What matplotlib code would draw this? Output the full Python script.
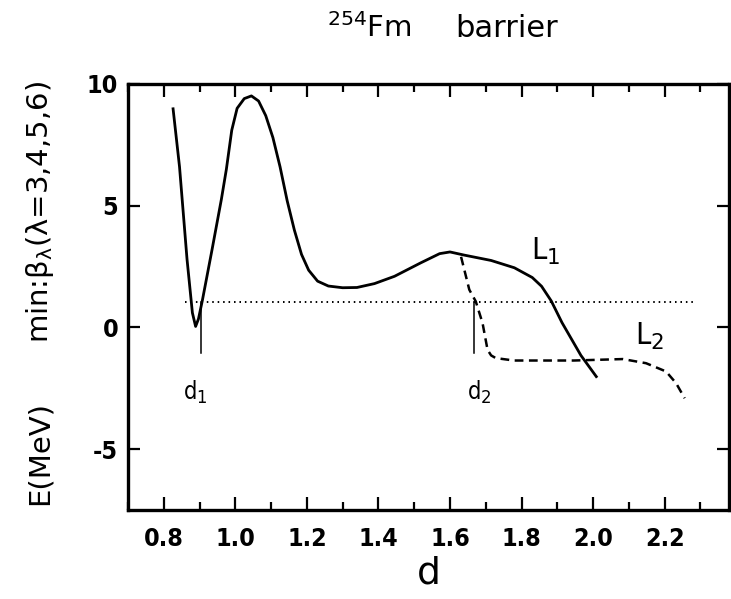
import matplotlib
matplotlib.use('Agg')
import matplotlib.pyplot as plt
from matplotlib.ticker import MultipleLocator
from matplotlib import font_manager

plt.rcParams['mathtext.fontset'] = 'custom'
plt.rcParams['mathtext.rm'] = 'DejaVu Sans'
plt.rcParams['mathtext.it'] = 'DejaVu Sans'

# narrow face for the numbers, if one is around
names = set(f.name for f in font_manager.fontManager.ttflist)
narrow = 'Liberation Sans Narrow' if 'Liberation Sans Narrow' in names else 'DejaVu Sans'
num_font = dict(family=narrow, stretch='condensed', weight='semibold')
lab_font = dict(family=narrow, stretch='condensed')

# barrier along the L1 path
d_L1 = [0.826, 0.844, 0.865, 0.880, 0.889, 0.897, 0.908, 0.935, 0.961, 0.975,
        0.990, 1.005, 1.025, 1.045, 1.065, 1.085, 1.105, 1.125, 1.145, 1.165,
        1.185, 1.205, 1.230, 1.260, 1.300, 1.340, 1.389, 1.445, 1.518, 1.571,
        1.600, 1.640, 1.715, 1.780, 1.830, 1.856, 1.883, 1.913, 1.966, 2.009]
E_L1 = [8.98, 6.60, 2.80, 0.60, 0.04, 0.35, 1.12, 3.20, 5.26, 6.50,
        8.10, 9.00, 9.40, 9.51, 9.30, 8.70, 7.80, 6.60, 5.20, 4.00,
        3.00, 2.35, 1.90, 1.70, 1.63, 1.64, 1.80, 2.10, 2.65, 3.03,
        3.10, 2.97, 2.75, 2.45, 2.05, 1.69, 1.09, 0.20, -1.15, -2.02]

# barrier along the L2 path (branches off L1)
d_L2 = [1.631, 1.654, 1.672, 1.691, 1.705, 1.715, 1.728, 1.779, 1.946, 2.083,
        2.148, 2.204, 2.232, 2.256]
E_L2 = [2.90, 1.55, 1.07, 0.18, -0.92, -1.15, -1.26, -1.36, -1.36, -1.30,
        -1.47, -1.81, -2.29, -2.91]

# ground-state level and its crossing points
E_level = 1.05
d_level = [0.859, 2.288]
d_marks = [0.905, 1.668]
mark_names = ['d$_1$', 'd$_2$']
mark_label_x = [0.889, 1.683]

xticks = [0.8, 1.0, 1.2, 1.4, 1.6, 1.8, 2.0, 2.2]
yticks = [-5, 0, 5, 10]

fig = plt.figure(figsize=(7.31, 5.99), dpi=100)
ax = fig.add_axes([0.1751, 0.1486, 0.8222, 0.7112])

ax.plot(d_L1, E_L1, color='black', lw=2.0, solid_joinstyle='round')
ax.plot(d_L2, E_L2, color='black', lw=1.8, dashes=(3.5, 2.2))
ax.plot(d_level, [E_level, E_level], color='black', lw=1.4, ls=(0, (0.8, 2.0)))
for x in d_marks:
    ax.plot([x, x], [E_level, -1.05], color='black', lw=1.1)

for x, s in zip(mark_label_x, mark_names):
    ax.text(x, -2.98, s, ha='center', va='baseline', fontsize=17, **lab_font)
ax.text(1.827, 2.79, 'L$_1$', ha='left', va='baseline', fontsize=22, **lab_font)
ax.text(2.118, -0.71, 'L$_2$', ha='left', va='baseline', fontsize=22, **lab_font)

ax.set_xlim(0.70, 2.38)
ax.set_ylim(-7.5, 10)
ax.set_xticks(xticks)
ax.set_xticklabels(['%.1f' % v for v in xticks], fontsize=18, **num_font)
ax.xaxis.set_minor_locator(MultipleLocator(0.1))
ax.set_yticks(yticks)
ax.set_yticklabels([str(v) for v in yticks], fontsize=18, **num_font)
ax.tick_params(axis='x', which='major', direction='in', top=True, length=9.5,
               width=1.6, pad=12)
ax.tick_params(axis='x', which='minor', direction='in', top=True, length=6,
               width=1.6)
ax.tick_params(axis='y', direction='in', right=True, length=8.5, width=1.6, pad=7)
for sp in ax.spines.values():
    sp.set_linewidth(2.4)

fig.text(429 / 731, 1 - 583 / 599, 'd', ha='center', va='baseline', fontsize=27)
fig.text(412 / 731, 1 - 37 / 599, '$^{254}$Fm', ha='right', va='baseline',
         fontsize=21)
fig.text(455 / 731, 1 - 37 / 599, 'barrier', ha='left', va='baseline', fontsize=22)
fig.text(40 / 731, 1 - 453 / 599, 'E(MeV)', rotation=90, ha='center',
         va='center', fontsize=21)
fig.text(40 / 731, 1 - 212 / 599, r'min:$\beta_\lambda$(λ=3,4,5,6)', rotation=90,
         ha='center', va='center', fontsize=21)

fig.savefig('out.png', dpi=100)
